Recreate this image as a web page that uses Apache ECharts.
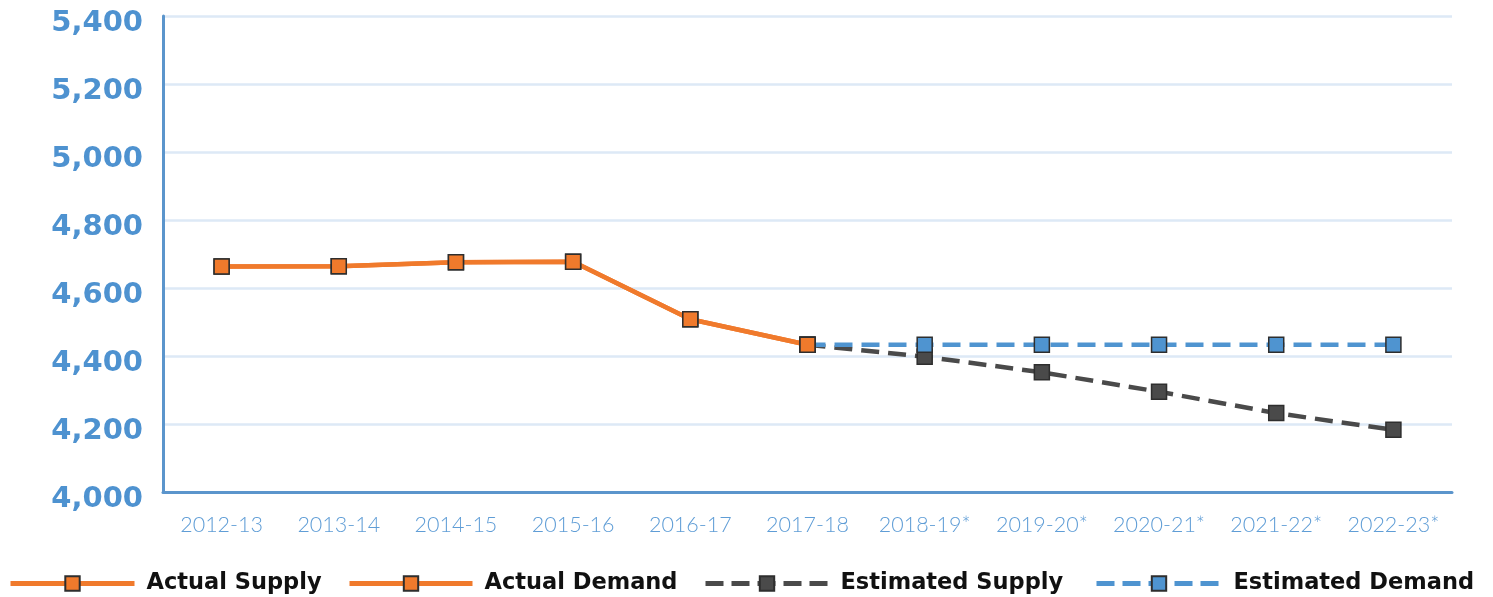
<!DOCTYPE html>
<html>
<head>
<meta charset="utf-8">
<script src="https://cdn.jsdelivr.net/npm/echarts@6/dist/echarts.min.js"></script>
<style>
html, body { margin: 0; padding: 0; background: #fff; }
#chart { width: 1493px; height: 597px; }
</style>
</head>
<body>
<div id="chart"></div>
<script>
var years = ['2012-13', '2013-14', '2014-15', '2015-16', '2016-17', '2017-18',
	'2018-19*', '2019-20*', '2020-21*', '2021-22*', '2022-23*'];
var actualSupply = [4663, 4664, 4676, 4677, 4508, 4433, '-', '-', '-', '-', '-'];
var actualDemand = [4663, 4664, 4676, 4677, 4508, 4433, '-', '-', '-', '-', '-'];
var estimatedSupply = ['-', '-', '-', '-', '-', 4433, 4398, 4352, 4295, 4232, 4183];
var estimatedDemand = ['-', '-', '-', '-', '-', 4433, 4433, 4433, 4433, 4433, 4433];

var myChart = echarts.init(document.getElementById('chart'));

var orange = '#f07a2c';
var blue = '#4f94d0';
var grey = '#4a4a4a';
var border = '#2e2e2e';

function lineSeries(name, data, color, dashed, z) {
	return {
		name: name,
		type: 'line',
		data: data,
		z: z,
		symbol: 'rect',
		symbolSize: 15,
		showAllSymbol: true,
		connectNulls: false,
		lineStyle: { color: color, width: 4.5, type: dashed ? [18, 9] : 'solid' },
		itemStyle: { color: color, borderColor: border, borderWidth: 1.5 },
		emphasis: { disabled: true }
	};
}

// one legend per item so each sits where the original puts it
function legendAt(name, left, width, dashed) {
	return {
		data: [name],
		left: left,
		top: 572,
		padding: 0,
		itemWidth: width,
		itemHeight: 18,
		itemGap: 0,
		lineStyle: { width: 5, type: dashed ? [18, 8] : 'solid' },
		textStyle: {
			fontFamily: 'DejaVu Sans',
			fontWeight: 'bold',
			fontSize: 22.5,
			color: '#111',
			padding: [0, 0, 0, 7]
		}
	};
}

var optionData = {
	animation: false,
	grid: { left: 163, right: 41, top: 16, bottom: 105 },
	legend: [
		legendAt('Actual Supply', 8, 124, false),
		legendAt('Actual Demand', 347, 123, false),
		legendAt('Estimated Supply', 703, 123, true),
		legendAt('Estimated Demand', 1094, 125, true)
	],
	xAxis: {
		type: 'category',
		data: years,
		boundaryGap: true,
		axisLine: { lineStyle: { color: '#5b95cc', width: 3 } },
		axisTick: { show: false },
		axisLabel: {
			interval: 0,
			color: '#5f9dd6',
			fontFamily: 'Lato',
			fontWeight: 300,
			fontSize: 21.5,
			margin: 22
		}
	},
	yAxis: {
		type: 'value',
		min: 4000,
		max: 5400,
		interval: 200,
		axisLine: { show: true, lineStyle: { color: '#5b95cc', width: 3 } },
		axisTick: { show: false },
		splitLine: { lineStyle: { color: '#dde9f6', width: 2.5 } },
		axisLabel: {
			margin: 20,
			formatter: function(v) { return '{n|' + v.toLocaleString('en-US') + '}'; },
			rich: {
				n: {
					color: '#4e92d0',
					fontFamily: 'DejaVu Sans',
					fontWeight: 'bold',
					fontSize: 29,
					padding: [14, 0, 0, 0]
				}
			}
		}
	},
	series: [
		lineSeries('Actual Supply', actualSupply, orange, false, 5),
		lineSeries('Actual Demand', actualDemand, orange, false, 5),
		lineSeries('Estimated Supply', estimatedSupply, grey, true, 3),
		lineSeries('Estimated Demand', estimatedDemand, blue, true, 4)
	]
};
myChart.setOption(optionData);
</script>
</body>
</html>
